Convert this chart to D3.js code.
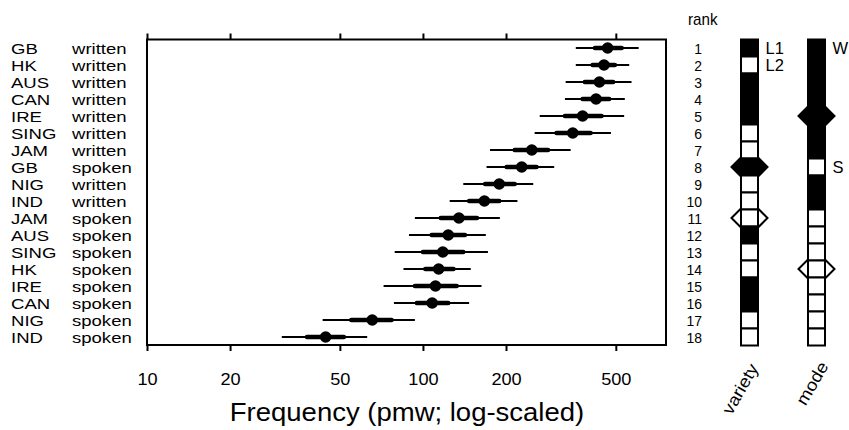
<!DOCTYPE html>
<html><head><meta charset="utf-8">
<script src="https://cdnjs.cloudflare.com/ajax/libs/d3/7.8.5/d3.min.js"></script>
<style>body{margin:0;background:#fff}svg{display:block;font-family:"Liberation Sans",Arial,sans-serif}</style>
</head><body><svg id="c" width="849" height="430"></svg>
<script>
const varieties = ["GB","HK","AUS","CAN","IRE","SING","JAM","GB","NIG","IND","JAM","AUS","SING","HK","IRE","CAN","NIG","IND"];
const modes = ["written","written","written","written","written","written","written","spoken","written","written","spoken","spoken","spoken","spoken","spoken","spoken","spoken","spoken"];
const estimate = [467,453,436,424,379,349,248,228,189,167,135,123.5,118,114,111,108,65.5,44.4];
const lo95 = [358,358,329,327,265,254,175,170,140,125,93.5,89,79,85,72,78.5,43.3,30.8];
const hi95 = [605,559,570,539,536,480,343,299,251,220,190,169,172,149,163,147,93.5,62.8];
const lo50 = [420,412,386,379,327,305,215,201,168,147,116,107.5,100,102,93.5,95,55,38];
const hi50 = [525,496,489,473,444,405,284,258,215,189,157,142,140,129,132.5,123.5,77,51.7];
const L1 = ["GB","AUS","CAN","IRE"];
const xTicks = [10,20,50,100,200,500];
const varietyHighlight = [{rank:8, filled:true},{rank:11, filled:false}];
const modeHighlight = [{rank:5, filled:true},{rank:14, filled:false}];

const ranks = d3.range(1, 19);
const svg = d3.select("#c");
const x = d3.scaleLog().domain([10, 760]).range([147, 666]);
const y = d3.scaleBand().domain(ranks).range([39.5, 345.5]);
const yc = r => y(r) + y.bandwidth()/2;

function stext(parent, tx, ty, str, size, kx, anchor) {
  return parent.append("text")
    .attr("transform", `translate(${tx},${ty}) scale(${kx},1)`)
    .attr("font-size", size).attr("text-anchor", anchor || "start").text(str);
}

// left labels
const lab = svg.append("g").attr("fill", "#000");
ranks.forEach((r,i) => {
  stext(lab, 11, yc(r) + 5.6, varieties[i], 15.2, 1.22);
  stext(lab, 72, yc(r) + 5.6, modes[i], 15.2, 1.22);
});

// axes
const axB = svg.append("g").attr("transform", "translate(0,345)")
  .call(d3.axisBottom(x).tickValues(xTicks).tickFormat(d3.format("d")).tickSize(6));
const axT = svg.append("g").attr("transform", "translate(0,39.5)")
  .call(d3.axisTop(x).tickValues(xTicks).tickFormat("").tickSize(6));
[axB, axT].forEach(g => {
  g.select(".domain").remove();
  g.selectAll("line").attr("stroke", "#000").attr("stroke-width", 2);
});
axB.selectAll("text").attr("y", null).attr("dy", null)
  .attr("transform", "translate(0,40) scale(1.1,1)")
  .attr("font-size", 16.5).attr("fill", "#000").attr("font-family", "Liberation Sans, Arial, sans-serif");
svg.append("rect").attr("x", 147).attr("y", 39.5).attr("width", 666-147).attr("height", 345-39.5)
  .attr("fill", "none").attr("stroke", "#000").attr("stroke-width", 2);

stext(svg, 407, 421, "Frequency (pmw; log-scaled)", 25, 1.1, "middle");

// data marks
const gm = svg.append("g");
ranks.forEach((r,i) => {
  gm.append("line").attr("x1", x(lo95[i])).attr("x2", x(hi95[i])).attr("y1", yc(r)).attr("y2", yc(r))
    .attr("stroke", "#000").attr("stroke-width", 2);
  gm.append("line").attr("x1", x(lo50[i])).attr("x2", x(hi50[i])).attr("y1", yc(r)).attr("y2", yc(r))
    .attr("stroke", "#000").attr("stroke-width", 4.5).attr("stroke-linecap", "round");
  gm.append("circle").attr("cx", x(estimate[i])).attr("cy", yc(r)).attr("r", 5.8).attr("fill", "#000");
});

// rank column
stext(svg, 688, 25, "rank", 16, 0.95);
const rk = svg.append("g");
ranks.forEach(r => stext(rk, 702, yc(r) + 5.8, r, 15.2, 0.92, "end"));

function column(cx, fills, highlights, labels, title, tx, ty) {
  const cg = svg.append("g");
  const hw = 18;
  highlights.forEach(h => {
    const c = yc(h.rank);
    cg.append("path").attr("d", `M${cx-hw},${c}L${cx},${c-hw}L${cx+hw},${c}L${cx},${c+hw}Z`)
      .attr("fill", h.filled ? "#000" : "#fff").attr("stroke", "#000").attr("stroke-width", 2);
  });
  ranks.forEach((r,i) => {
    cg.append("rect").attr("x", cx-8.5).attr("y", y(r)).attr("width", 17).attr("height", y.bandwidth())
      .attr("fill", fills[i] ? "#000" : "#fff").attr("stroke", "#000").attr("stroke-width", 2);
  });
  labels.forEach(l => stext(cg, cx+16, yc(l.rank) + 6, l.text, 16.5, 1.0));
  svg.append("text").attr("transform", `translate(${tx},${ty}) rotate(-60) scale(1.1,1)`)
    .attr("text-anchor", "end").attr("font-size", 17).text(title);
}
column(749.5, varieties.map(v => L1.includes(v)), varietyHighlight,
  [{rank:1,text:"L1"},{rank:2,text:"L2"}], "variety", 759, 368);
column(816.5, modes.map(m => m === "written"), modeHighlight,
  [{rank:1,text:"W"},{rank:8,text:"S"}], "mode", 829, 366);
</script></body></html>
